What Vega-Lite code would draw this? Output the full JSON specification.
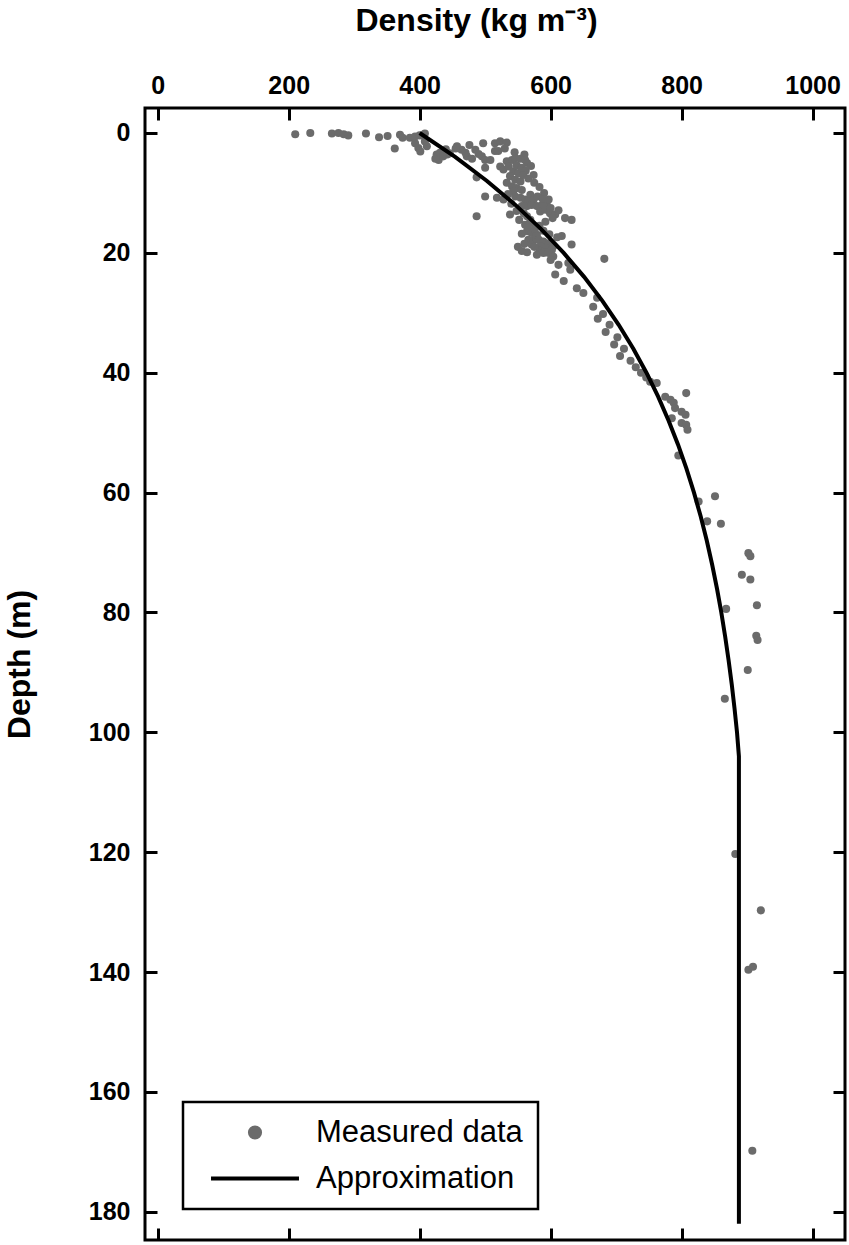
{
  "$schema": "https://vega.github.io/schema/vega-lite/v6.json",
  "width": 700,
  "height": 1132,
  "autosize": {"type": "none"},
  "padding": {"left": 145, "top": 108, "right": 4, "bottom": 5},
  "background": "white",
  "config": {
    "view": {"stroke": "black", "strokeWidth": 3},
    "font": "Liberation Sans",
    "legend": {"strokeWidth": 2.5},
    "axis": {
      "grid": false,
      "domain": false,
      "tickColor": "black",
      "tickWidth": 3,
      "tickSize": -12,
      "labelFont": "Liberation Sans",
      "labelFontWeight": "bold",
      "labelFontSize": 25,
      "labelColor": "black",
      "labelPadding": 27,
      "titleFont": "Liberation Sans",
      "titleFontWeight": "bold",
      "titleFontSize": 32,
      "titleColor": "black"
    }
  },
  "datasets": {
    "measured": [
      {"density": 210, "depth": 0.2}, {"density": 233, "depth": 0}, {"density": 266, "depth": 0.1}, {"density": 276, "depth": 0},
      {"density": 284, "depth": 0.2}, {"density": 291, "depth": 0.4}, {"density": 318, "depth": 0.1}, {"density": 338, "depth": 0.7},
      {"density": 351, "depth": 0.5}, {"density": 362, "depth": 2.6}, {"density": 370, "depth": 0.3}, {"density": 374, "depth": 0.8},
      {"density": 385, "depth": 0.8}, {"density": 393, "depth": 0.6}, {"density": 400, "depth": 0.4}, {"density": 398, "depth": 2.5},
      {"density": 401, "depth": 3.1}, {"density": 411, "depth": 2.2}, {"density": 408, "depth": 1.4}, {"density": 393, "depth": 1.7},
      {"density": 408, "depth": 0.1}, {"density": 426, "depth": 3.6}, {"density": 429, "depth": 4.5}, {"density": 424, "depth": 4.3},
      {"density": 431, "depth": 3.3}, {"density": 436, "depth": 3.9}, {"density": 442, "depth": 3.6}, {"density": 446, "depth": 3.4},
      {"density": 457, "depth": 2.2}, {"density": 464, "depth": 2.8}, {"density": 472, "depth": 3.9}, {"density": 476, "depth": 2.0},
      {"density": 485, "depth": 2.8}, {"density": 495, "depth": 3.9}, {"density": 500, "depth": 4.5}, {"density": 508, "depth": 4.5},
      {"density": 497, "depth": 1.7}, {"density": 515, "depth": 1.7}, {"density": 523, "depth": 1.4}, {"density": 533, "depth": 1.6},
      {"density": 455, "depth": 2.6}, {"density": 470, "depth": 3.3}, {"density": 490, "depth": 3.5}, {"density": 440, "depth": 2.7},
      {"density": 480, "depth": 4.3}, {"density": 515, "depth": 3.0}, {"density": 520, "depth": 3.0}, {"density": 530, "depth": 2.6},
      {"density": 545, "depth": 3.2}, {"density": 560, "depth": 3.6},
      {"density": 487, "depth": 7.4}, {"density": 500, "depth": 5.8}, {"density": 523, "depth": 5.6}, {"density": 528, "depth": 6.1},
      {"density": 574, "depth": 7.0}, {"density": 487, "depth": 13.9}, {"density": 500, "depth": 10.6}, {"density": 518, "depth": 10.8},
      {"density": 528, "depth": 11.1}, {"density": 538, "depth": 13.6},
      {"density": 533, "depth": 4.7}, {"density": 541, "depth": 4.5}, {"density": 546, "depth": 4.2}, {"density": 554, "depth": 4.3},
      {"density": 561, "depth": 4.5}, {"density": 564, "depth": 5.0}, {"density": 536, "depth": 5.6}, {"density": 543, "depth": 6.4},
      {"density": 551, "depth": 6.7}, {"density": 538, "depth": 7.2}, {"density": 546, "depth": 7.8}, {"density": 554, "depth": 8.1},
      {"density": 533, "depth": 8.3}, {"density": 541, "depth": 8.9}, {"density": 548, "depth": 9.2}, {"density": 556, "depth": 9.5},
      {"density": 543, "depth": 9.7}, {"density": 546, "depth": 10.6}, {"density": 554, "depth": 10.8}, {"density": 561, "depth": 11.1},
      {"density": 569, "depth": 10.3}, {"density": 566, "depth": 11.4}, {"density": 574, "depth": 11.1}, {"density": 556, "depth": 12.2},
      {"density": 564, "depth": 12.2}, {"density": 571, "depth": 12.0}, {"density": 579, "depth": 12.2}, {"density": 587, "depth": 12.0},
      {"density": 594, "depth": 11.7}, {"density": 597, "depth": 11.1}, {"density": 584, "depth": 13.1}, {"density": 592, "depth": 12.8},
      {"density": 599, "depth": 13.4}, {"density": 607, "depth": 13.6}, {"density": 559, "depth": 13.4}, {"density": 564, "depth": 13.9},
      {"density": 569, "depth": 14.5}, {"density": 561, "depth": 15.3}, {"density": 569, "depth": 15.0}, {"density": 564, "depth": 16.4},
      {"density": 571, "depth": 16.7}, {"density": 579, "depth": 17.0}, {"density": 574, "depth": 17.8}, {"density": 582, "depth": 17.8},
      {"density": 589, "depth": 18.1}, {"density": 597, "depth": 18.4}, {"density": 604, "depth": 18.9}, {"density": 566, "depth": 17.8},
      {"density": 571, "depth": 18.6}, {"density": 584, "depth": 18.9}, {"density": 594, "depth": 19.2}, {"density": 602, "depth": 19.5},
      {"density": 548, "depth": 5.4}, {"density": 556, "depth": 5.8}, {"density": 562, "depth": 6.3}, {"density": 570, "depth": 5.5},
      {"density": 558, "depth": 7.0}, {"density": 566, "depth": 7.6}, {"density": 575, "depth": 8.3}, {"density": 583, "depth": 9.0},
      {"density": 590, "depth": 10.0}, {"density": 580, "depth": 10.6}, {"density": 588, "depth": 11.0}, {"density": 600, "depth": 12.5},
      {"density": 612, "depth": 12.9}, {"density": 603, "depth": 14.2}, {"density": 592, "depth": 14.8}, {"density": 583, "depth": 15.5},
      {"density": 576, "depth": 16.0}, {"density": 589, "depth": 16.3}, {"density": 598, "depth": 16.9}, {"density": 610, "depth": 17.4},
      {"density": 583, "depth": 19.6}, {"density": 592, "depth": 19.9}, {"density": 575, "depth": 19.0}, {"density": 560, "depth": 18.5},
      {"density": 550, "depth": 19.0}, {"density": 548, "depth": 13.0}, {"density": 552, "depth": 14.5}, {"density": 540, "depth": 11.8},
      {"density": 535, "depth": 10.2}, {"density": 556, "depth": 16.8}, {"density": 565, "depth": 15.7},
      {"density": 622, "depth": 14.2}, {"density": 632, "depth": 14.5}, {"density": 617, "depth": 17.2}, {"density": 632, "depth": 18.6},
      {"density": 556, "depth": 19.7}, {"density": 564, "depth": 19.9}, {"density": 579, "depth": 20.3}, {"density": 589, "depth": 20.0},
      {"density": 597, "depth": 20.0}, {"density": 604, "depth": 20.6}, {"density": 627, "depth": 21.7}, {"density": 630, "depth": 22.8},
      {"density": 607, "depth": 23.6}, {"density": 620, "depth": 24.7}, {"density": 640, "depth": 25.9}, {"density": 650, "depth": 26.7},
      {"density": 682, "depth": 21.0}, {"density": 671, "depth": 27.5}, {"density": 612, "depth": 22.0}, {"density": 600, "depth": 21.2},
      {"density": 665, "depth": 29.0}, {"density": 680, "depth": 30.2}, {"density": 672, "depth": 31.0}, {"density": 690, "depth": 32.0},
      {"density": 684, "depth": 33.2}, {"density": 702, "depth": 34.1}, {"density": 697, "depth": 35.3}, {"density": 712, "depth": 36.0},
      {"density": 706, "depth": 37.2}, {"density": 722, "depth": 38.0}, {"density": 730, "depth": 39.1}, {"density": 738, "depth": 40.0},
      {"density": 746, "depth": 40.8}, {"density": 752, "depth": 41.5}, {"density": 762, "depth": 41.7},
      {"density": 775, "depth": 44.0}, {"density": 783, "depth": 44.5}, {"density": 788, "depth": 45.0}, {"density": 790, "depth": 45.9},
      {"density": 785, "depth": 47.6}, {"density": 807, "depth": 43.4}, {"density": 800, "depth": 46.5}, {"density": 806, "depth": 47.0},
      {"density": 800, "depth": 48.4}, {"density": 807, "depth": 48.7}, {"density": 809, "depth": 49.5}, {"density": 795, "depth": 53.8},
      {"density": 851, "depth": 60.6}, {"density": 826, "depth": 61.5}, {"density": 839, "depth": 64.8}, {"density": 860, "depth": 65.2},
      {"density": 902, "depth": 70.1}, {"density": 905, "depth": 70.6}, {"density": 892, "depth": 73.7}, {"density": 905, "depth": 74.5},
      {"density": 868, "depth": 79.4}, {"density": 915, "depth": 78.8}, {"density": 914, "depth": 83.9}, {"density": 916, "depth": 84.6},
      {"density": 901, "depth": 89.6}, {"density": 866, "depth": 94.4},
      {"density": 882, "depth": 120.3}, {"density": 921, "depth": 129.7}, {"density": 902, "depth": 139.6}, {"density": 909, "depth": 139.1},
      {"density": 908, "depth": 169.8}
    ],
    "approx": [
      {"density": 400, "depth": 0}, {"density": 454.2, "depth": 4}, {"density": 502.8, "depth": 8}, {"density": 546.2, "depth": 12},
      {"density": 585.1, "depth": 16}, {"density": 619.9, "depth": 20}, {"density": 651.1, "depth": 24}, {"density": 679.0, "depth": 28},
      {"density": 703.9, "depth": 32}, {"density": 726.3, "depth": 36}, {"density": 746.3, "depth": 40}, {"density": 764.2, "depth": 44},
      {"density": 780.2, "depth": 48}, {"density": 794.6, "depth": 52}, {"density": 807.4, "depth": 56}, {"density": 818.9, "depth": 60},
      {"density": 829.2, "depth": 64}, {"density": 838.4, "depth": 68}, {"density": 846.6, "depth": 72}, {"density": 854.0, "depth": 76},
      {"density": 860.6, "depth": 80}, {"density": 866.5, "depth": 84}, {"density": 871.8, "depth": 88}, {"density": 876.6, "depth": 92},
      {"density": 880.8, "depth": 96}, {"density": 884.6, "depth": 100}, {"density": 887.5, "depth": 104}, {"density": 887.5, "depth": 182}
    ]
  },
  "layer": [
    {
      "data": {"name": "measured"},
      "transform": [{"calculate": "'Measured data'", "as": "series"}],
      "mark": {"type": "point", "filled": true, "size": 65, "opacity": 1},
      "encoding": {
        "x": {
          "field": "density", "type": "quantitative",
          "scale": {"domain": [-19.4, 1049.5], "nice": false, "zero": false},
          "axis": {"orient": "top", "values": [0, 200, 400, 600, 800, 1000], "format": "d", "title": "Density (kg m⁻³)", "labelBaseline": "alphabetic", "titleX": 331, "titleY": -78, "titleBaseline": "alphabetic", "titleAlign": "center", "titleAnchor": null}
        },
        "y": {
          "field": "depth", "type": "quantitative",
          "scale": {"domain": [-4.17, 184.7], "nice": false, "zero": false, "reverse": true},
          "axis": {"orient": "left", "values": [0, 20, 40, 60, 80, 100, 120, 140, 160, 180], "format": "d", "title": "Depth (m)", "titleX": -116, "titleY": 556, "titleAngle": -90, "titleBaseline": "alphabetic", "titleAlign": "center", "titleAnchor": null}
        },
        "color": {
          "field": "series", "type": "nominal",
          "scale": {"domain": ["Measured data", "Approximation"], "range": ["#6b6b6b", "black"]},
          "legend": {
            "orient": "none", "legendX": 38, "legendY": 994, "title": null,
            "strokeColor": "black", "padding": 15, "rowPadding": 14,
            "symbolSize": 200, "symbolOffset": 41.5, "labelOffset": 45.5, "labelLimit": 500,
            "labelFont": "Liberation Sans", "labelFontSize": 31, "labelColor": "black", "labelFontWeight": "normal"
          }
        },
        "shape": {
          "field": "series", "type": "nominal",
          "scale": {"domain": ["Measured data", "Approximation"], "range": ["circle", "M-6.22,-0.28H6.22V0.28H-6.22Z"]},
          "legend": {
            "orient": "none", "legendX": 38, "legendY": 994, "title": null,
            "strokeColor": "black", "padding": 15, "rowPadding": 14,
            "symbolSize": 200, "symbolOffset": 41.5, "labelOffset": 45.5, "labelLimit": 500,
            "labelFont": "Liberation Sans", "labelFontSize": 31, "labelColor": "black", "labelFontWeight": "normal"
          }
        }
      }
    },
    {
      "data": {"name": "approx"},
      "mark": {"type": "line", "strokeWidth": 4, "color": "black"},
      "encoding": {
        "x": {"field": "density", "type": "quantitative", "axis": {"orient": "bottom", "values": [0, 200, 400, 600, 800, 1000], "labels": false, "title": null}},
        "y": {"field": "depth", "type": "quantitative", "axis": {"orient": "right", "values": [0, 20, 40, 60, 80, 100, 120, 140, 160, 180], "labels": false, "title": null}},
        "order": {"field": "depth", "type": "quantitative"}
      }
    }
  ],
  "resolve": {"axis": {"x": "independent", "y": "independent"}}
}
